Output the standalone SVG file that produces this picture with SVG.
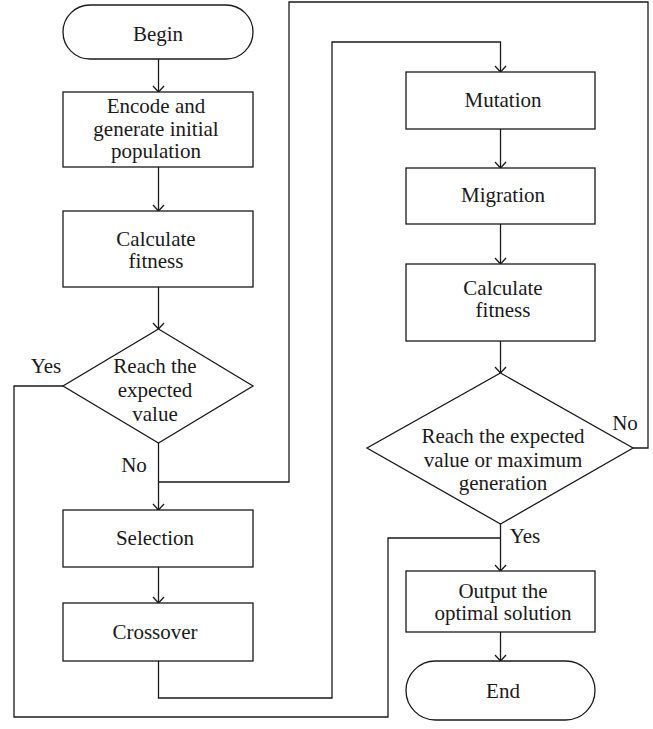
<svg xmlns="http://www.w3.org/2000/svg" width="653" height="729" viewBox="0 0 653 729">
<style>
.n{fill:#fff;stroke:#1a1a1a;stroke-width:1.3}
.c{fill:none;stroke:#1a1a1a;stroke-width:1.3}
text{font-family:"Liberation Serif","Times New Roman",serif;font-size:21px;fill:#1a1a1a;text-anchor:middle}
</style>
<defs>
<marker id="v" markerUnits="userSpaceOnUse" markerWidth="12" markerHeight="8" refX="0" refY="0" orient="auto" overflow="visible">
<path d="M-6,-5.5 L0,0 L-6,5.5" fill="none" stroke="#1a1a1a" stroke-width="1.3"/>
</marker>
</defs>
<g id="connectors">
<path class="c" d="M158.5,59 V92" marker-end="url(#v)"/>
<path class="c" d="M158.5,167 V211" marker-end="url(#v)"/>
<path class="c" d="M158.5,287 V329" marker-end="url(#v)"/>
<path class="c" d="M158.5,443 V510" marker-end="url(#v)"/>
<path class="c" d="M158.5,567 V603" marker-end="url(#v)"/>
<path class="c" d="M63,386 H14 V717 H388 V538 H500.5"/>
<path class="c" d="M158.5,661 V698 H332 V42 H500.5 V72" marker-end="url(#v)"/>
<path class="c" d="M500.5,129 V168" marker-end="url(#v)"/>
<path class="c" d="M500.5,224 V264" marker-end="url(#v)"/>
<path class="c" d="M500.5,341 V373" marker-end="url(#v)"/>
<path class="c" d="M500.5,524 V571" marker-end="url(#v)"/>
<path class="c" d="M500.5,632 V661" marker-end="url(#v)"/>
<path class="c" d="M633,448 H648 V2 H289 V482 H158.5"/>
<text x="46" y="373">Yes</text>
<text x="134" y="472">No</text>
<text x="625" y="430">No</text>
<text x="525" y="543">Yes</text>
</g>
<g id="begin"><rect class="n" x="63" y="5" width="190" height="54" rx="27"/><text x="158" y="41">Begin</text></g>
<g id="encode"><rect class="n" x="63" y="92" width="190" height="75"/><text x="156" y="113">Encode and</text><text x="156" y="136">generate initial</text><text x="156" y="158">population</text></g>
<g id="calc1"><rect class="n" x="63" y="211" width="190" height="76"/><text x="156" y="246">Calculate</text><text x="156" y="268">fitness</text></g>
<g id="decision1"><path class="n" d="M158.5,329 L253,386 L158.5,443 L63,386 Z"/><text x="155" y="373">Reach the</text><text x="155" y="397">expected</text><text x="155" y="421">value</text></g>
<g id="selection"><rect class="n" x="63" y="510" width="190" height="57"/><text x="155" y="545">Selection</text></g>
<g id="crossover"><rect class="n" x="63" y="603" width="190" height="58"/><text x="155" y="639">Crossover</text></g>
<g id="mutation"><rect class="n" x="406" y="72" width="189" height="57"/><text x="503" y="107">Mutation</text></g>
<g id="migration"><rect class="n" x="406" y="168" width="189" height="56"/><text x="503" y="202">Migration</text></g>
<g id="calc2"><rect class="n" x="406" y="264" width="189" height="77"/><text x="503" y="295">Calculate</text><text x="503" y="317">fitness</text></g>
<g id="decision2"><path class="n" d="M500.5,373 L633,448 L500.5,524 L367,448 Z"/><text x="503" y="443">Reach the expected</text><text x="503" y="467">value or maximum</text><text x="503" y="490">generation</text></g>
<g id="output"><rect class="n" x="406" y="571" width="189" height="61"/><text x="503" y="598">Output the</text><text x="503" y="620">optimal solution</text></g>
<g id="end"><rect class="n" x="406" y="661" width="189" height="59" rx="29.5"/><text x="503" y="698">End</text></g>
</svg>
